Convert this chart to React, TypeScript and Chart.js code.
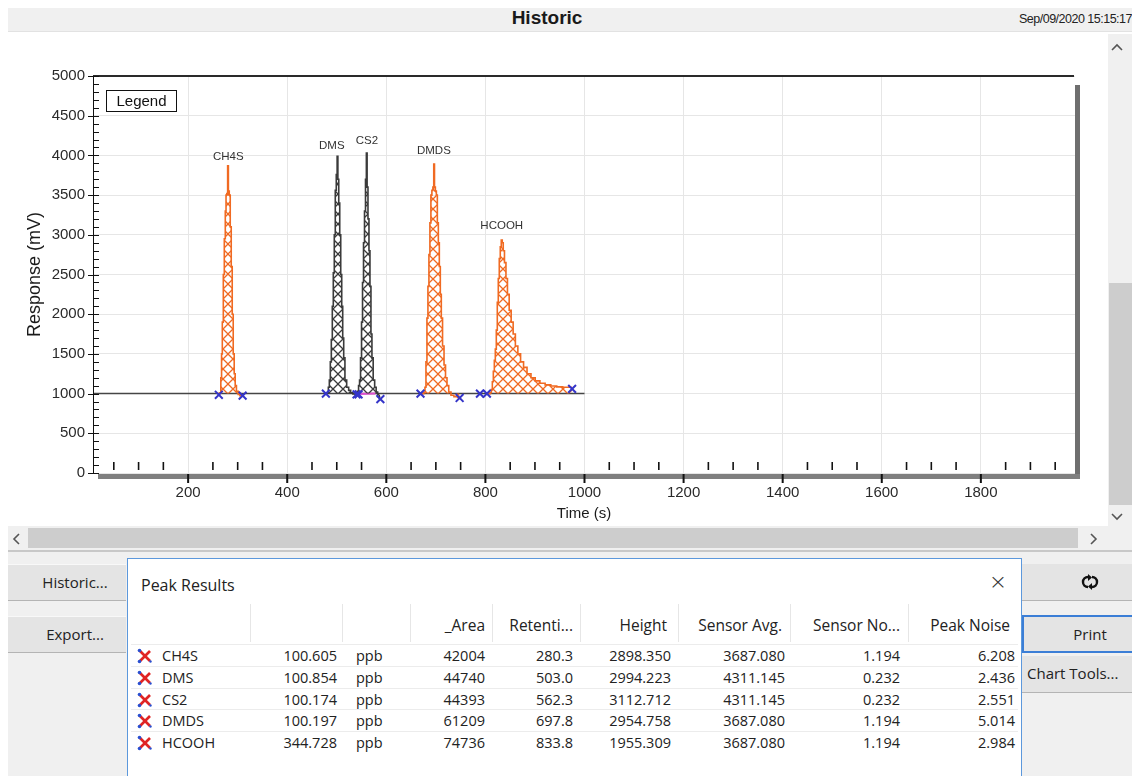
import React, { useEffect, useRef } from 'react';
import { Chart, registerables } from 'chart.js';
Chart.register(...registerables);

// ---------- chart data ----------
const X_MIN = 8;
const X_MAX = 1990;
const X_TICKS = [200, 400, 600, 800, 1000, 1200, 1400, 1600, 1800];
const Y_TICKS = [0, 500, 1000, 1500, 2000, 2500, 3000, 3500, 4000, 4500, 5000];
const X_MINOR_STEP = 50;
const Y_MINOR_STEP = 100;

const BASE_T = [8, 1000];
const BASE_V = [1000, 1000];

const CH4S_T = [262, 265, 267, 268, 270, 272, 274, 276, 277, 279, 280.5, 282, 284, 286, 288, 290, 292, 294, 296, 299, 303, 306, 310];
const CH4S_V = [1000, 1010, 1200, 1500, 1900, 2500, 2950, 3300, 3500, 3520, 3870, 3550, 3500, 3100, 2600, 2000, 1500, 1250, 1100, 1030, 990, 975, 975];

const DMS_T = [478, 482, 484, 486, 488, 490, 492, 494, 496, 498, 500, 501.5, 503, 505, 507, 509, 511, 513, 515, 518, 522, 526, 530, 535, 540];
const DMS_V = [1000, 1005, 1080, 1170, 1400, 1680, 2100, 2520, 3000, 3560, 3760, 3990, 3700, 3400, 3000, 2500, 2100, 1700, 1450, 1170, 1080, 1040, 1010, 995, 990];

const CS2_T = [540, 543, 545, 547, 549, 551, 553, 555, 557, 559, 560.5, 562, 564, 566, 568, 570, 572, 575, 578, 581, 584, 588];
const CS2_V = [990, 1030, 1100, 1170, 1450, 1900, 2400, 2900, 3300, 3700, 4030, 3600, 3200, 2800, 2350, 1750, 1450, 1170, 1080, 1020, 960, 940];

const DMDS_T = [669, 674, 677, 679, 681, 683, 685, 687, 689, 691, 693, 695, 696.5, 698, 700, 702, 704, 706, 708, 710, 712, 715, 718, 721, 724, 728, 733, 740, 748];
const DMDS_V = [1000, 1000, 1010, 1080, 1400, 1950, 2350, 2750, 3150, 3500, 3560, 3600, 3890, 3600, 3550, 3500, 3150, 2900, 2600, 2250, 1950, 1600, 1360, 1200, 1100, 1020, 980, 960, 950];

const HCOOH_T = [803, 808, 811, 813, 815, 817, 819, 821, 823, 825, 827, 829, 831, 833, 835, 837, 840, 843, 846, 850, 854, 858, 863, 868, 874, 880, 888, 896, 905, 915, 926, 938, 950, 962, 975];
const HCOOH_V = [1000, 1000, 1010, 1050, 1150, 1280, 1420, 1560, 1800, 2150, 2450, 2700, 2850, 2935, 2900, 2800, 2650, 2450, 2250, 2050, 1900, 1750, 1600, 1500, 1400, 1330, 1250, 1200, 1160, 1130, 1110, 1095, 1085, 1080, 1080];

const PINK_T = [542, 578];
const PINK_V = [995, 1000];

const MARKER_T = [262, 310, 478, 540, 544, 588, 669, 748, 789, 803, 975];
const MARKER_V = [985, 975, 1000, 990, 990, 930, 1000, 945, 1000, 1000, 1060];

const LABEL_NAMES = ['CH4S', 'DMS', 'CS2', 'DMDS', 'HCOOH'];
const LABEL_T = [281, 490, 561, 696, 833];
const LABEL_V = [3980, 4120, 4185, 4055, 3110];

// ---------- table data ----------
const HEADERS = ['', '', '', '_Area', 'Retenti...', 'Height', 'Sensor Avg.', 'Sensor No...', 'Peak Noise'];
const ROW_NAMES = ['CH4S', 'DMS', 'CS2', 'DMDS', 'HCOOH'];
const ROW_CONC = ['100.605', '100.854', '100.174', '100.197', '344.728'];
const ROW_UNIT = ['ppb', 'ppb', 'ppb', 'ppb', 'ppb'];
const ROW_AREA = ['42004', '44740', '44393', '61209', '74736'];
const ROW_RET = ['280.3', '503.0', '562.3', '697.8', '833.8'];
const ROW_HEIGHT = ['2898.350', '2994.223', '3112.712', '2954.758', '1955.309'];
const ROW_SAVG = ['3687.080', '4311.145', '4311.145', '3687.080', '3687.080'];
const ROW_SNOISE = ['1.194', '0.232', '0.232', '1.194', '1.194'];
const ROW_PNOISE = ['6.208', '2.436', '2.551', '5.014', '2.984'];

const ORANGE = '#f06a22';
const DARK = '#3a3a3a';
const UI_FONT = '"Open Sans", "Noto Sans", sans-serif';
const CHART_FONT = '"Liberation Sans", Arial, sans-serif';

function hatch(color: string) {
  const s = 10;
  const c = document.createElement('canvas');
  c.width = s;
  c.height = s;
  const g = c.getContext('2d')!;
  g.strokeStyle = color;
  g.lineWidth = 1.3;
  g.beginPath();
  g.moveTo(-1, -1); g.lineTo(s + 1, s + 1);
  g.moveTo(s + 1, -1); g.lineTo(-1, s + 1);
  g.stroke();
  return g.createPattern(c, 'repeat')!;
}

const framePlugin = {
  id: 'frame',
  afterDraw(chart: any) {
    const { ctx, chartArea: a, scales } = chart;
    const x = scales.x, y = scales.y;
    ctx.save();
    // right shadow
    ctx.fillStyle = '#6f6f6f';
    ctx.fillRect(a.right, a.top + 9, 5, a.bottom - a.top - 5);
    // bottom bar
    ctx.fillStyle = '#7f7f7f';
    ctx.fillRect(a.left + 5, a.bottom + 1, a.right - a.left, 5);
    // top line
    ctx.strokeStyle = '#2a2a2a';
    ctx.lineWidth = 2;
    ctx.beginPath(); ctx.moveTo(a.left, a.top); ctx.lineTo(a.right - 1, a.top); ctx.stroke();
    // y axis line
    ctx.strokeStyle = '#111';
    ctx.lineWidth = 1;
    ctx.beginPath(); ctx.moveTo(a.left + 0.5, a.top); ctx.lineTo(a.left + 0.5, a.bottom); ctx.stroke();
    // y ticks
    for (let v = Y_TICKS[0]; v <= Y_TICKS[Y_TICKS.length - 1]; v += Y_MINOR_STEP) {
      const py = Math.round(y.getPixelForValue(v)) + 0.5;
      ctx.beginPath(); ctx.moveTo(a.left, py); ctx.lineTo(a.left + 6, py); ctx.stroke();
    }
    Y_TICKS.forEach((v) => {
      const py = Math.round(y.getPixelForValue(v)) + 0.5;
      ctx.beginPath(); ctx.moveTo(a.left - 5, py); ctx.lineTo(a.left, py); ctx.stroke();
    });
    // x ticks
    ctx.lineWidth = 1.6;
    for (let v = X_MINOR_STEP; v < X_MAX; v += X_MINOR_STEP) {
      if (X_TICKS.includes(v)) continue;
      const px = x.getPixelForValue(v);
      ctx.beginPath(); ctx.moveTo(px, a.bottom - 11); ctx.lineTo(px, a.bottom - 3); ctx.stroke();
    }
    ctx.lineWidth = 2;
    X_TICKS.forEach((v) => {
      const px = x.getPixelForValue(v);
      ctx.beginPath(); ctx.moveTo(px, a.bottom + 1); ctx.lineTo(px, a.bottom + 10); ctx.stroke();
    });
    // legend box
    ctx.fillStyle = '#fff';
    ctx.fillRect(a.left + 13, a.top + 14, 71, 22);
    ctx.strokeStyle = '#111';
    ctx.lineWidth = 1;
    ctx.strokeRect(a.left + 13.5, a.top + 14.5, 70, 21);
    ctx.fillStyle = '#111';
    ctx.font = '15px ' + CHART_FONT;
    ctx.textAlign = 'center';
    ctx.textBaseline = 'middle';
    ctx.fillText('Legend', a.left + 48.5, a.top + 25.5);
    // peak labels
    ctx.font = '11.5px ' + CHART_FONT;
    ctx.fillStyle = '#333';
    LABEL_NAMES.forEach((n, i) => {
      ctx.fillText(n, x.getPixelForValue(LABEL_T[i]), y.getPixelForValue(LABEL_V[i]));
    });
    ctx.restore();
  },
};

function RowIcon() {
  return (
    <svg width="16" height="16" viewBox="0 0 16 16" style={{ display: 'block' }}>
      <line x1="3" y1="3" x2="13" y2="13" stroke="#e02424" strokeWidth="2.6" />
      <line x1="13" y1="3" x2="3" y2="13" stroke="#e02424" strokeWidth="2.6" />
      <circle cx="2.5" cy="2.5" r="1.8" fill="#2a4fd0" />
      <circle cx="2.5" cy="13.5" r="1.8" fill="#2a4fd0" />
      <circle cx="13.5" cy="13.5" r="1.2" fill="#2a4fd0" />
    </svg>
  );
}

const abs = (left: number, top: number, width: number, height: number, extra: any = {}) => ({
  position: 'absolute' as const, left, top, width, height, boxSizing: 'border-box' as const, ...extra,
});

// layout: column right edges (page x) for the table
const COL_RIGHT = [0, 337, 0, 485, 573, 671, 785, 900, 1015];
const HEADER_RIGHT = [0, 0, 0, 485, 573, 667, 782, 900, 1010];
const COL_SEPS = [250, 342, 410, 492, 580, 678, 790, 908];

export default function App() {
  const ref = useRef<HTMLCanvasElement>(null);

  useEffect(() => {
    const canvas = ref.current!;
    const pts = (T: number[], V: number[]) => T.map((t, i) => ({ x: t, y: V[i] }));
    const peak = (T: number[], V: number[], color: string) => ({
      data: pts(T, V),
      borderColor: color,
      borderWidth: 1.6,
      backgroundColor: hatch(color),
      fill: { value: 1000 },
      pointRadius: 0,
      stepped: 'middle' as const,
    });
    const chart = new Chart(canvas, {
      type: 'line',
      data: {
        datasets: [
          {
            data: pts(MARKER_T, MARKER_V),
            showLine: false,
            pointStyle: 'crossRot',
            pointRadius: 5.5,
            pointBorderColor: '#3535c8',
            pointBorderWidth: 2,
            borderColor: '#3535c8',
          } as any,
          peak(CH4S_T, CH4S_V, ORANGE),
          peak(DMS_T, DMS_V, DARK),
          peak(CS2_T, CS2_V, DARK),
          peak(DMDS_T, DMDS_V, ORANGE),
          peak(HCOOH_T, HCOOH_V, ORANGE),
          { data: pts(PINK_T, PINK_V), borderColor: '#e050d0', borderWidth: 2, pointRadius: 0 },
          { data: pts(BASE_T, BASE_V), borderColor: '#454545', borderWidth: 1.5, pointRadius: 0 },
        ],
      },
      options: {
        animation: false,
        responsive: false,
        events: [],
        layout: { padding: { top: 42, right: 33, left: 0, bottom: 0 } },
        plugins: { legend: { display: false }, tooltip: { enabled: false } },
        scales: {
          x: {
            type: 'linear',
            min: X_MIN,
            max: X_MAX,
            afterBuildTicks: (s: any) => { s.ticks = X_TICKS.map((v) => ({ value: v })); },
            afterFit: (s: any) => { s.height = 53; },
            grid: { color: '#e6e6e6', drawTicks: false },
            border: { display: false },
            ticks: { padding: 11, color: '#2a2a2a', font: { size: 15, family: CHART_FONT }, callback: (v: any) => String(v), maxRotation: 0 },
            title: { display: true, text: 'Time (s)', color: '#1a1a1a', font: { size: 15, family: CHART_FONT }, padding: { top: 0, bottom: 3 } },
          },
          y: {
            min: 0,
            max: 5000,
            afterBuildTicks: (s: any) => { s.ticks = Y_TICKS.map((v) => ({ value: v })); },
            afterFit: (s: any) => { s.width = 85; },
            grid: { color: '#e6e6e6', drawTicks: false },
            border: { display: false },
            ticks: { padding: 8, color: '#2a2a2a', font: { size: 15, family: CHART_FONT }, callback: (v: any) => String(v) },
            title: { display: true, text: 'Response (mV)', color: '#1a1a1a', font: { size: 18, family: CHART_FONT }, padding: { top: 16, bottom: 0 } },
          },
        },
      },
      plugins: [framePlugin],
    } as any);
    return () => chart.destroy();
  }, []);

  const rowY = (i: number) => 645 + i * 21.75;
  const cols = [ROW_NAMES, ROW_CONC, ROW_UNIT, ROW_AREA, ROW_RET, ROW_HEIGHT, ROW_SAVG, ROW_SNOISE, ROW_PNOISE];

  const chevron = (d: string) => (
    <svg width="12" height="8" viewBox="0 0 12 8" style={{ display: 'block' }}>
      <polyline points={d} fill="none" stroke="#555" strokeWidth="1.6" />
    </svg>
  );

  const btnText = { fontSize: 15, color: '#222', whiteSpace: 'nowrap' as const };

  return (
    <div style={{ position: 'fixed', left: 0, top: 0, width: 1132, height: 776, overflow: 'hidden', background: '#fff', fontFamily: UI_FONT }}>
      {/* header */}
      <div style={abs(8, 8, 1124, 24, { background: '#f0f0f0', borderBottom: '1px solid #e2e2e2' })} />
      <div style={abs(447, 7, 200, 22, { textAlign: 'center', fontFamily: CHART_FONT, fontWeight: 'bold', fontSize: 19, lineHeight: '22px', color: '#1a1a1a' })}>Historic</div>
      <div style={abs(962, 8, 170, 22, { textAlign: 'right', fontFamily: CHART_FONT, fontSize: 12.5, lineHeight: '22px', color: '#222', whiteSpace: 'nowrap', letterSpacing: -0.5 })}>Sep/09/2020 15:15:17</div>

      {/* chart canvas */}
      <canvas ref={ref} width={1100} height={492} style={{ position: 'absolute', left: 8, top: 34, width: 1100, height: 492 }} />

      {/* vertical scrollbar */}
      <div style={abs(1108, 34, 24, 492, { background: '#f0f0f0' })} />
      <div style={abs(1109, 283, 23, 222, { background: '#cdcdcd' })} />
      <div style={abs(1111, 43, 12, 8)}>{chevron('1,7 6,2 11,7')}</div>
      <div style={abs(1111, 513, 12, 8)}>{chevron('1,1 6,6 11,1')}</div>

      {/* horizontal scrollbar */}
      <div style={abs(8, 526, 1124, 24, { background: '#f0f0f0' })} />
      <div style={abs(28, 528, 1050, 20, { background: '#cdcdcd' })} />
      <div style={abs(12, 533, 8, 12)}>
        <svg width="8" height="12" viewBox="0 0 8 12" style={{ display: 'block' }}><polyline points="7,1 2,6 7,11" fill="none" stroke="#555" strokeWidth="1.6" /></svg>
      </div>
      <div style={abs(1090, 533, 8, 12)}>
        <svg width="8" height="12" viewBox="0 0 8 12" style={{ display: 'block' }}><polyline points="1,1 6,6 1,11" fill="none" stroke="#555" strokeWidth="1.6" /></svg>
      </div>

      {/* bottom panel */}
      <div style={abs(8, 550, 1124, 226, { background: '#f0f0f0', borderTop: '2px solid #c8c8c8' })} />
      <div style={abs(8, 564, 118, 37, { background: '#e4e4e4', borderTop: '1px solid #f8f8f8', borderBottom: '1px solid #b4b4b4', textAlign: 'center', paddingLeft: 16, lineHeight: '35px', ...btnText })}>Historic...</div>
      <div style={abs(8, 616, 118, 37, { background: '#e4e4e4', borderTop: '1px solid #f8f8f8', borderBottom: '1px solid #b4b4b4', textAlign: 'center', paddingLeft: 16, lineHeight: '35px', ...btnText })}>Export...</div>

      <div style={abs(1022, 564, 136, 37, { background: '#e4e4e4', borderBottom: '1px solid #b4b4b4', display: 'flex', alignItems: 'center', justifyContent: 'center' })}>
        <svg width="20" height="16" viewBox="0 0 20 16">
          <path d="M8 3 A5 5 0 0 0 8 13" fill="none" stroke="#111" strokeWidth="2.4" />
          <polygon points="8,0 12,3.5 8,7" fill="#111" />
          <path d="M12 13 A5 5 0 0 0 12 3" fill="none" stroke="#111" strokeWidth="2.4" />
          <polygon points="12,9 8,12.5 12,16" fill="#111" />
        </svg>
      </div>
      <div style={abs(1022, 615, 136, 38, { background: '#e4e4e4', border: '2px solid #3b7ed6', textAlign: 'center', lineHeight: '34px', ...btnText })}>Print</div>
      <div style={abs(1022, 656, 136, 37, { background: '#e4e4e4', borderBottom: '1px solid #b4b4b4', paddingLeft: 5, lineHeight: '35px', ...btnText })}>Chart Tools...</div>

      {/* Peak Results dialog */}
      <div style={abs(127, 558, 895, 240, { background: '#fff', border: '1px solid #5c98dc' })} />
      <div style={abs(141, 573, 200, 24, { fontSize: 16, lineHeight: '24px', color: '#222' })}>Peak Results</div>
      <div style={abs(986, 569, 24, 26, { fontSize: 22, lineHeight: '26px', color: '#333', textAlign: 'center', fontFamily: '"DejaVu Sans", sans-serif', fontWeight: 300 })}>×</div>

      {COL_SEPS.map((sx, i) => (
        <div key={'s' + i} style={abs(sx, 604, 1, 38, { background: '#e6e6e6' })} />
      ))}
      {HEADERS.map((h, i) => h ? (
        <div key={'h' + i} style={abs(HEADER_RIGHT[i] - 150, 613, 150, 24, { textAlign: 'right', fontSize: 15.5, lineHeight: '24px', color: '#222', whiteSpace: 'nowrap' })}>{h}</div>
      ) : null)}
      {ROW_NAMES.map((_, r) => (
        <React.Fragment key={'r' + r}>
          <div style={abs(131, rowY(r) - 1, 887, 1, { background: '#ececec' })} />
          <div style={abs(137, rowY(r) + 3, 16, 16)}><RowIcon /></div>
          {cols.map((col, c) => {
            if (c === 0) return <div key={c} style={abs(162, rowY(r), 90, 22, { fontSize: 14.5, lineHeight: '22px', color: '#222' })}>{col[r]}</div>;
            if (c === 2) return <div key={c} style={abs(356, rowY(r), 50, 22, { fontSize: 14.5, lineHeight: '22px', color: '#222' })}>{col[r]}</div>;
            return <div key={c} style={abs(COL_RIGHT[c] - 120, rowY(r), 120, 22, { textAlign: 'right', fontSize: 14.5, lineHeight: '22px', color: '#222' })}>{col[r]}</div>;
          })}
        </React.Fragment>
      ))}
    </div>
  );
}
